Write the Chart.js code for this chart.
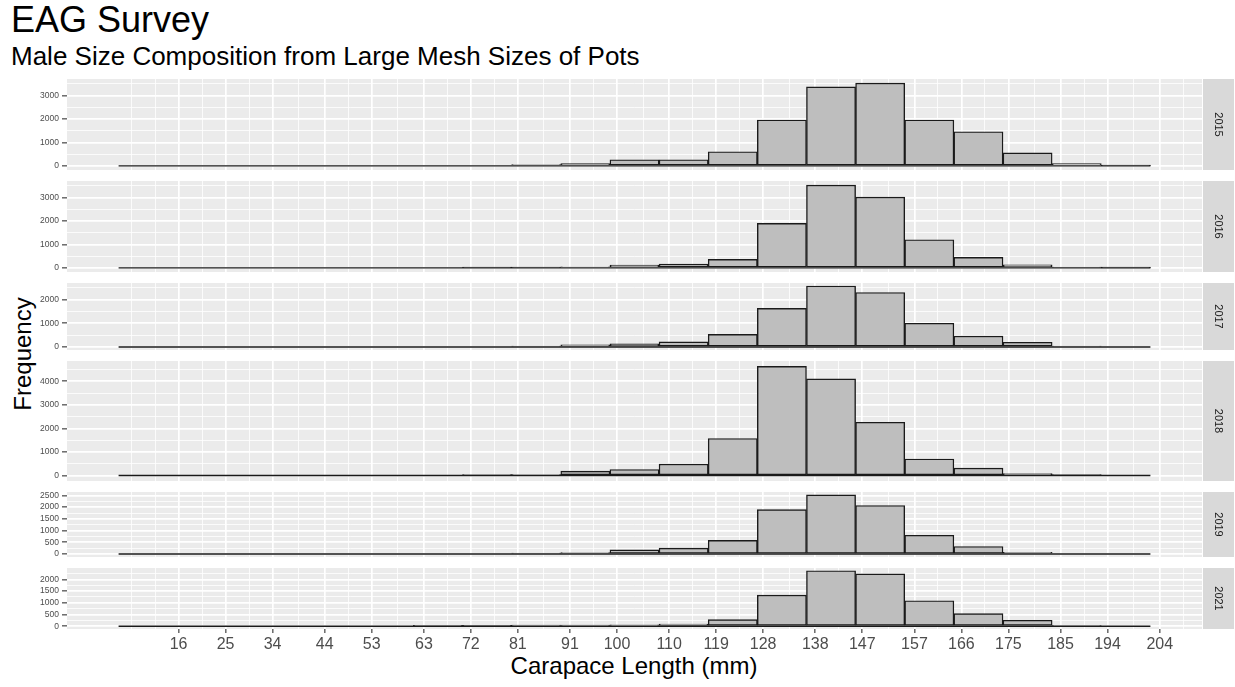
<!doctype html>
<html lang="en">

<head>
  <meta charset="utf-8">
  <title>EAG Survey</title>
  <script src="https://cdn.jsdelivr.net/npm/chart.js"></script>
  <style>
    body {
      margin: 0;
      width: 1235px;
      height: 687px;
      position: relative;
      overflow: hidden;
      background: #fff;
      font-family: "Liberation Sans", Arial, sans-serif;
    }

    .txt {
      position: absolute;
      white-space: nowrap;
      line-height: 1;
      color: #000;
    }

    #title { left: 11px; top: 2px; font-size: 36px; }
    #subtitle { left: 11px; top: 43px; font-size: 26px; }
    #ylab { left: 23px; top: 354px; font-size: 24px; transform: translate(-50%, -50%) rotate(-90deg); }
    #xlab { left: 634px; top: 654px; font-size: 24px; transform: translateX(-50%); }

    canvas { position: absolute; left: 0; }
  </style>
</head>

<body>
  <div id="title" class="txt">EAG Survey</div>
  <div id="subtitle" class="txt">Male Size Composition from Large Mesh Sizes of Pots</div>
  <div id="ylab" class="txt">Frequency</div>
  <div id="xlab" class="txt">Carapace Length (mm)</div>

  <script>
    // histogram bins, carapace length in mm
    const binStart = 4.5
    const binWidth = 9.415
    const xBreaks = [16, 25, 34, 44, 53, 63, 72, 81, 91, 100, 110, 119, 128, 138, 147, 157, 166, 175, 185, 194, 204]

    const years = ['2015', '2016', '2017', '2018', '2019', '2021']
    const yStep = [1000, 1000, 1000, 1000, 500, 500]

    // counts per bin (21 bins)
    const count2015 = [0, 0, 0, 0, 0, 0, 0, 0, 55, 100, 260, 260, 600, 1950, 3360, 3520, 1950, 1450, 550, 95, 3]
    const count2016 = [0, 0, 0, 0, 0, 0, 0, 10, 15, 45, 115, 160, 360, 1890, 3520, 3010, 1195, 445, 130, 30, 2]
    const count2017 = [0, 0, 0, 0, 0, 0, 0, 0, 30, 85, 130, 215, 530, 1630, 2575, 2300, 1000, 460, 200, 30, 0]
    const count2018 = [0, 0, 0, 0, 0, 0, 0, 20, 40, 185, 257, 485, 1570, 4630, 4100, 2260, 700, 315, 85, 5, 0]
    const count2019 = [0, 0, 0, 0, 0, 0, 0, 0, 40, 60, 175, 250, 580, 1895, 2520, 2070, 800, 320, 70, 0, 0]
    const count2021 = [0, 0, 0, 0, 0, 0, 15, 25, 45, 50, 55, 90, 285, 1330, 2370, 2240, 1090, 540, 255, 40, 0]
    const counts = [count2015, count2016, count2017, count2018, count2019, count2021]

    const nBins = count2015.length
    const binEnd = binStart + binWidth * nBins
    const xSpan = binEnd - binStart
    const xMin = binStart - 0.05 * xSpan
    const xMax = binEnd + 0.05 * xSpan

    // layout of the stacked panels
    const plotTop = 79
    const plotBottom = 630
    const gap = 11
    const axisLeft = 67
    const stripPad = 33
    const xAxisH = 30

    const gridGrey = '#EBEBEB'
    const tickGrey = '#4D4D4D'

    // major breaks plus ggplot-style minor breaks half way between them
    const withMinors = (breaks, lo, hi) => {
      const d = breaks[1] - breaks[0]
      const b = [breaks[0] - d, ...breaks, breaks[breaks.length - 1] + d]
      const out = []
      for (let k = 0; k < b.length - 1; k++) out.push(b[k], (b[k] + b[k + 1]) / 2)
      out.push(b[b.length - 1])
      return out.filter(v => v >= lo && v <= hi)
    }

    const panelBg = {
      id: 'panelBg',
      beforeDraw: (chart) => {
        const { ctx, chartArea: a } = chart
        ctx.save()
        ctx.fillStyle = gridGrey
        ctx.fillRect(a.left, a.top, a.right - a.left, a.bottom - a.top)
        ctx.restore()
      }
    }

    const strip = {
      id: 'strip',
      afterDraw: (chart, args, opts) => {
        const { ctx, chartArea: a } = chart
        const w = stripPad - 2
        ctx.save()
        ctx.fillStyle = '#D9D9D9'
        ctx.fillRect(a.right + 1, a.top, w, a.bottom - a.top)
        ctx.translate(a.right + 1 + w / 2, (a.top + a.bottom) / 2)
        ctx.rotate(Math.PI / 2)
        ctx.fillStyle = '#1A1A1A'
        ctx.font = '11px "Liberation Sans", Arial, sans-serif'
        ctx.textAlign = 'center'
        ctx.textBaseline = 'middle'
        ctx.fillText(opts.label, 0, 0)
        ctx.restore()
      }
    }

    const ranges = counts.map(c => Math.max(...c) * 1.1)
    const pxPerUnit = (plotBottom - plotTop - gap * (counts.length - 1)) / ranges.reduce((s, r) => s + r, 0)

    const makePanel = (i, panelY) => {
      const data = counts[i]
      const isLast = i === counts.length - 1
      const h = Math.round(ranges[i] * pxPerUnit)
      const axisH = isLast ? xAxisH : 0
      const ymax = Math.max(...data)
      const yMin = -0.05 * ymax
      const yMax = 1.05 * ymax
      const yMajors = []
      for (let v = 0; v <= yMax; v += yStep[i]) yMajors.push(v)
      const yTicks = withMinors(yMajors, yMin, yMax)
      const xTicks = withMinors(xBreaks, xMin, xMax)

      const canvas = document.createElement('canvas')
      canvas.width = 1235
      canvas.height = h + axisH
      canvas.style.top = panelY + 'px'
      document.body.appendChild(canvas)

      new Chart(canvas, {
        type: 'bar',
        data: {
          datasets: [
            {
              type: 'line',
              data: [{ x: binStart, y: 0 }, { x: binEnd, y: 0 }],
              borderColor: '#1A1A1A',
              borderWidth: 1.4,
              pointRadius: 0,
              order: 0
            },
            {
              type: 'bar',
              data: data.map((c, k) => ({ x: binStart + binWidth * (k + 0.5), y: c })),
              backgroundColor: '#BEBEBE',
              borderColor: '#1A1A1A',
              borderWidth: 1.4,
              borderSkipped: false,
              barThickness: 'flex',
              barPercentage: 1,
              categoryPercentage: 1,
              order: 1
            }
          ]
        },
        options: {
          responsive: false,
          animation: false,
          events: [],
          layout: { padding: { left: 0, right: stripPad, top: 0, bottom: 0 }, autoPadding: false },
          plugins: {
            legend: { display: false },
            tooltip: { enabled: false },
            strip: { label: years[i] }
          },
          scales: {
            x: {
              type: 'linear',
              min: xMin,
              max: xMax,
              offset: false,
              border: { display: false },
              grid: {
                offset: false,
                color: '#FFFFFF',
                lineWidth: ctx => xBreaks.includes(ctx.tick.value) ? 1.7 : 0.8,
                drawTicks: isLast,
                tickLength: 4,
                tickWidth: 1.1,
                tickColor: ctx => xBreaks.includes(ctx.tick.value) ? '#333333' : 'rgba(0,0,0,0)'
              },
              ticks: {
                display: isLast,
                autoSkip: false,
                maxRotation: 0,
                padding: 2,
                color: tickGrey,
                font: { family: '"Liberation Sans", Arial, sans-serif', size: 16 },
                callback: v => xBreaks.includes(v) ? String(v) : ''
              },
              afterBuildTicks: s => { s.ticks = xTicks.map(v => ({ value: v })) },
              afterFit: s => {
                s.height = axisH
                s.paddingLeft = 0
                s.paddingRight = 0
              }
            },
            y: {
              type: 'linear',
              position: 'left',
              min: yMin,
              max: yMax,
              border: { display: false },
              grid: {
                color: '#FFFFFF',
                lineWidth: ctx => ctx.tick.value % yStep[i] === 0 ? 1.7 : 0.8,
                tickLength: 5,
                tickWidth: 1.1,
                tickColor: ctx => ctx.tick.value % yStep[i] === 0 ? '#333333' : 'rgba(0,0,0,0)'
              },
              ticks: {
                autoSkip: false,
                padding: 3,
                color: tickGrey,
                font: { family: '"Liberation Sans", Arial, sans-serif', size: 8.5 },
                callback: v => v % yStep[i] === 0 ? String(v) : ''
              },
              afterBuildTicks: s => { s.ticks = yTicks.map(v => ({ value: v })) },
              afterFit: s => {
                s.width = axisLeft
                s.paddingTop = 0
                s.paddingBottom = 0
              }
            }
          }
        },
        plugins: [panelBg, strip]
      })
      return h
    }

    let panelY = plotTop
    counts.forEach((c, i) => {
      panelY += makePanel(i, panelY) + gap
    })
  </script>
</body>

</html>
